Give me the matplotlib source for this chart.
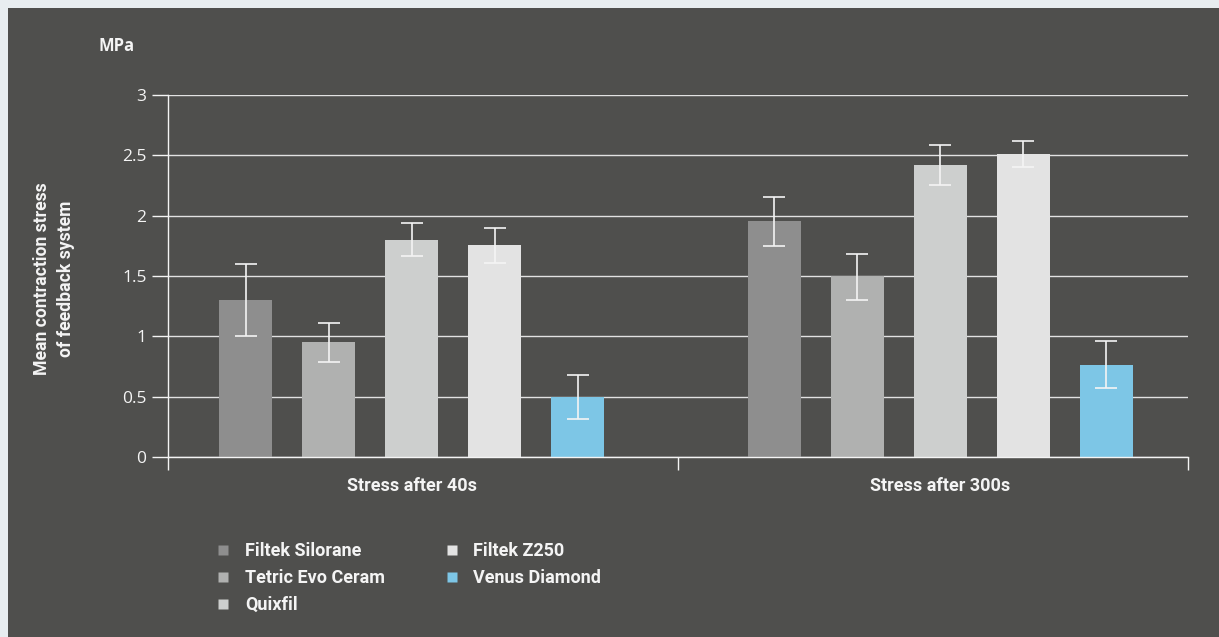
import matplotlib
matplotlib.use('Agg')
import matplotlib.pyplot as plt
from matplotlib.lines import Line2D
from matplotlib.patches import Rectangle
import numpy as np

# ---- data ----
groups = ['Stress after 40s', 'Stress after 300s']
materials = ['Filtek Silorane', 'Tetric Evo Ceram', 'Quixfil', 'Filtek Z250', 'Venus Diamond']
colors = ['#8e8e8e', '#b0b1b0', '#cdcfce', '#e3e3e3', '#7dc6e6']
means_40s = [1.30, 0.95, 1.80, 1.755, 0.50]
means_300s = [1.955, 1.50, 2.42, 2.51, 0.76]
err_low_40s = [1.00, 0.79, 1.668, 1.61, 0.315]
err_high_40s = [1.60, 1.11, 1.94, 1.90, 0.68]
err_low_300s = [1.75, 1.30, 2.255, 2.40, 0.572]
err_high_300s = [2.155, 1.685, 2.588, 2.62, 0.96]
yticks = [0, 0.5, 1, 1.5, 2, 2.5, 3]
ytick_labels = ['0', '0.5', '1', '1.5', '2', '2.5', '3']
y_unit = 'MPa'
y_label = 'Mean contraction stress\nof feedback system'

means = [means_40s, means_300s]
lows = [err_low_40s, err_low_300s]
highs = [err_high_40s, err_high_300s]

# ---- layout ----
W, H = 1219, 637
PANEL = '#4f4f4d'
OUTER = '#e8edf0'
FG = '#f4f4f4'
NARROW = ['Roboto', 'DejaVu Sans']
NUM = ['Open Sans', 'DejaVu Sans']

fig = plt.figure(figsize=(W / 100, H / 100), dpi=100, facecolor=OUTER)
fig.patches.append(Rectangle((8 / W, 0), 1, (H - 8) / H, transform=fig.transFigure,
                             facecolor=PANEL, edgecolor='none', zorder=-10))

ax = fig.add_axes([168 / W, 1 - 457 / H, (1188 - 168) / W, (457 - 95) / H])
ax.set_facecolor('none')
ax.set_zorder(1)

group_pos = [-0.0225, 1.0147]
step = 83 / 510
bw = 53 / 510

for gi, gp in enumerate(group_pos):
    for i, mat in enumerate(materials):
        x = gp + (i - 2) * step
        m = means[gi][i]
        ax.bar(x, m, width=bw, color=colors[i], zorder=3,
               label=mat if gi == 0 else None)
        yerr = [[m - lows[gi][i]], [highs[gi][i] - m]]
        ax.errorbar(x, m, yerr=yerr, fmt='none', ecolor=FG, elinewidth=1.2,
                    capsize=8, capthick=1.2, zorder=4)

ax.set_xlim(-0.5, 1.5)
ax.set_ylim(0, 3)

ax.set_yticks(yticks)
ax.set_yticklabels(ytick_labels, fontfamily=NUM, fontsize=12.5, color=FG)
ax.tick_params(axis='y', direction='out', length=11.5, width=1.0, color=FG, pad=4)
ax.yaxis.grid(True, color='#e2e2e2', linewidth=1.0, zorder=1)
ax.set_axisbelow(True)

ax.set_xticks([-0.5, 0.5, 1.5])
ax.set_xticklabels([])
ax.set_xticks(group_pos, minor=True)
ax.set_xticklabels(groups, minor=True, fontfamily=NARROW, fontweight='bold',
                   fontsize=13, color=FG)
ax.tick_params(axis='x', which='major', direction='out', length=9.5, width=1.0, color=FG)
ax.tick_params(axis='x', which='minor', length=0, pad=14.5)

for s in ['top', 'right']:
    ax.spines[s].set_visible(False)
for s in ['left', 'bottom']:
    ax.spines[s].set_color(FG)
    ax.spines[s].set_linewidth(1.0)
    ax.spines[s].set_zorder(5)

fig.text(135 / W, 1 - 46 / H, y_unit, ha='right', va='center', fontfamily=NUM,
         fontweight='bold', fontsize=12, color=FG)
fig.text(54 / W, 1 - 279 / H, y_label, ha='center', va='center', rotation=90,
         fontfamily=NARROW, fontweight='bold', fontsize=12.7, color=FG,
         linespacing=1.45, multialignment='center')

handles = [Line2D([], [], marker='s', linestyle='none', markersize=7.4,
                  markerfacecolor=c, markeredgecolor='none') for c in colors]
leg = fig.legend(handles, materials, ncol=2, loc='upper left',
                 bbox_to_anchor=(207 / W, 1 - 533 / H), frameon=False,
                 prop={'family': NARROW, 'weight': 'bold', 'size': 13},
                 labelcolor=FG, handlelength=0.8, handletextpad=0.8,
                 columnspacing=3.3, labelspacing=0.5, borderpad=0)

fig.savefig('out.png', dpi=100, facecolor=OUTER)
